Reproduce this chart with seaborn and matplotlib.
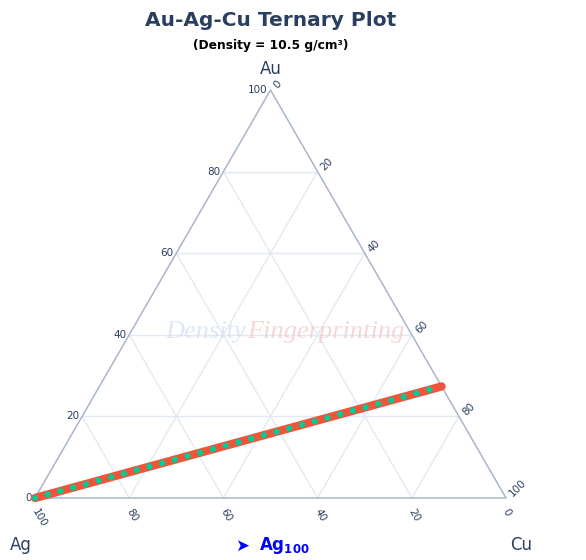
import numpy as np
import pandas as pd
import matplotlib
matplotlib.use("Agg")
import matplotlib.pyplot as plt
import seaborn as sns

# compositions along the 10.5 g/cm3 iso-density line (wt %)
au = [0.0, 27.35]
ag = [100.0, 0.0]
cu = [0.0, 72.65]

tick_values = [0, 20, 40, 60, 80, 100]
grid_values = [20, 40, 60, 80]

H = np.sqrt(3) / 2


def to_xy(a, b, c):
    """ternary (Au, Ag, Cu) -> cartesian, Ag bottom-left, Cu bottom-right, Au top"""
    a = np.asarray(a, dtype=float)
    b = np.asarray(b, dtype=float)
    c = np.asarray(c, dtype=float)
    s = a + b + c
    return (c + a / 2) / s, a / s * H


sns.set_theme(style="white")
plt.rcParams["font.family"] = ["DejaVu Sans"]

fig = plt.figure(figsize=(5.86, 5.60), dpi=100)
ax = fig.add_axes([35 / 586, 62 / 560, 471 / 586, 408 / 560])
ax.set_xlim(0, 1)
ax.set_ylim(0, H)
ax.axis("off")

grid_c = "#e3e9f2"
edge_c = "#a9b6c9"
text_c = "#2a3f5f"

# grid lines
for v in grid_values:
    for pa, pb in [((v, 100 - v, 0), (v, 0, 100 - v)),
                   ((0, v, 100 - v), (100 - v, v, 0)),
                   ((0, 100 - v, v), (100 - v, 0, v))]:
        x, y = to_xy(*zip(pa, pb))
        ax.plot(x, y, color=grid_c, lw=1, zorder=1, clip_on=False)

# triangle edges
ex, ey = to_xy([0, 0, 100, 0], [100, 0, 0, 100], [0, 100, 0, 0])
ax.plot(ex, ey, color=edge_c, lw=1.1, zorder=2, clip_on=False)

# tick labels
for v in tick_values:
    x, y = to_xy(v, 100 - v, 0)
    ax.annotate(str(v), (x, y), xytext=(-2, 0), textcoords="offset points",
                ha="right", va="center", fontsize=7.5, color=text_c)
    x, y = to_xy(100 - v, 0, v)
    ax.annotate(str(v), (x, y), xytext=(3.5, 2), textcoords="offset points",
                ha="left", va="center", fontsize=7.5, color=text_c,
                rotation=45, rotation_mode="anchor")
    x, y = to_xy(0, v, 100 - v)
    ax.annotate(str(v), (x, y), xytext=(-0.5, -8.5), textcoords="offset points",
                ha="left", va="center", fontsize=7.5, color=text_c,
                rotation=-60, rotation_mode="anchor")

# watermark
fig.text(246 / 586, 1 - 332 / 560, "Density", fontsize=19, style="italic",
         family="Liberation Serif", color="#cfdff0", alpha=0.7, ha="right", va="center")
fig.text(247 / 586, 1 - 332 / 560, "Fingerprinting", fontsize=19, style="italic",
         family="Liberation Serif", color="#f2c6c6", alpha=0.7, ha="left", va="center")

# iso-density line
lx, ly = to_xy(au, ag, cu)
df = pd.DataFrame({"x": lx, "y": ly})
sns.lineplot(data=df, x="x", y="y", sort=False, estimator=None, ax=ax,
             color="#ef553b", lw=6, solid_capstyle="round", zorder=4, clip_on=False)
sns.lineplot(data=df, x="x", y="y", sort=False, estimator=None, ax=ax,
             color="#00cc96", lw=4.5, linestyle=(0, (0.01, 2.1)),
             dash_capstyle="round", zorder=5, clip_on=False)

# vertex titles
fig.text(271 / 586, 1 - 69 / 560, "Au", fontsize=12, color=text_c, ha="center", va="center")
fig.text(21 / 586, 1 - 545 / 560, "Ag", fontsize=12, color=text_c, ha="center", va="center")
fig.text(521 / 586, 1 - 545 / 560, "Cu", fontsize=12, color=text_c, ha="center", va="center")

# titles
fig.text(271 / 586, 1 - 21 / 560, "Au-Ag-Cu Ternary Plot", fontsize=14.5,
         fontweight="bold", color=text_c, ha="center", va="center")
fig.text(271 / 586, 1 - 45 / 560, "(Density = 10.5 g/cm³)", fontsize=8.8,
         fontweight="bold", color="black", ha="center", va="center")

# legend
fig.text(242 / 586, 1 - 546 / 560, "➤", fontsize=12, color="blue", ha="center", va="center")
fig.text(259 / 586, 1 - 546 / 560, r"$\mathbf{Ag_{100}}$", fontsize=12, color="blue",
         ha="left", va="center")

fig.savefig("out.png", dpi=100)
